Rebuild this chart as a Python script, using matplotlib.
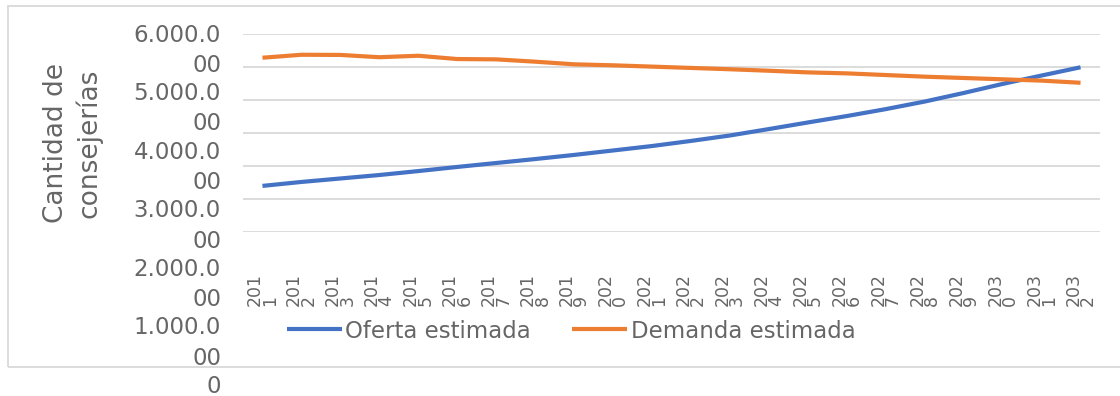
import matplotlib
matplotlib.use("Agg")
import matplotlib.pyplot as plt
from matplotlib.patches import Rectangle

plt.rcParams["font.family"] = ["DejaVu Sans"]

# datos
years = list(range(2011, 2033))
oferta = [1390, 1510, 1615, 1720, 1840, 1965, 2085, 2205, 2330, 2465, 2600,
          2755, 2920, 3115, 3315, 3510, 3720, 3950, 4210, 4485, 4740, 4990]
demanda = [5280, 5370, 5365, 5295, 5340, 5240, 5230, 5160, 5080, 5050, 5010,
           4970, 4930, 4885, 4835, 4805, 4755, 4705, 4665, 4625, 4585, 4520]
y_grid = [0, 1000, 2000, 3000, 4000, 5000, 6000]
y_tick_labels = ["6.000.0\n00", "5.000.0\n00", "4.000.0\n00", "3.000.0\n00",
                 "2.000.0\n00", "1.000.0\n00", "0"]
x_tick_labels = [str(y)[:3] + "\n" + str(y)[3:] for y in years]

BLUE = "#4472C4"
ORANGE = "#ED7D31"
GRID = "#d9d9d9"
TXT = "#666666"

W, H = 1120, 396
fig = plt.figure(figsize=(W / 100, H / 100), dpi=100)
ax = fig.add_axes([243 / W, 1 - 231.7 / H, (1100 - 243) / W, (231.7 - 34) / H])

x = list(range(len(years)))
ax.plot(x, oferta, color=BLUE, lw=3, solid_capstyle="butt", label="Oferta estimada")
ax.plot(x, demanda, color=ORANGE, lw=3, solid_capstyle="butt", label="Demanda estimada")

ax.set_xlim(-0.5, len(years) - 0.5)
ax.set_ylim(0, 6000)
ax.set_yticks(y_grid)
ax.set_yticklabels([])
ax.grid(axis="y", color=GRID, lw=1.3)
ax.set_axisbelow(True)
for s in ax.spines.values():
    s.set_visible(False)
ax.tick_params(length=0)

ax.set_xticks(x)
ax.set_xticklabels(x_tick_labels, rotation=90, multialignment="left",
                   fontsize=12.5, color=TXT, linespacing=0.75)
ax.tick_params(axis="x", pad=30)

# etiquetas del eje Y (desplazadas como en el original)
for i, lab in enumerate(y_tick_labels):
    top = 23.5 + 58.6 * i
    fig.text(221 / W, 1 - top / H, lab, ha="right", va="top", fontsize=16.5,
             color=TXT, multialignment="right", linespacing=1.4)

fig.text(73 / W, 1 - 143 / H, "Cantidad de\nconsejerías", rotation=90,
         ha="center", va="center", fontsize=19, color=TXT, linespacing=1.3)

fig.legend(loc="center", bbox_to_anchor=(571 / W, 1 - 331 / H), ncol=2,
           frameon=False, fontsize=16.5, labelcolor=TXT, handlelength=2.4,
           handletextpad=0.15, columnspacing=1.8)

fig.patches.append(Rectangle((8 / W, 1 - 367 / H), 1.2, (367 - 6) / H,
                             transform=fig.transFigure, fill=False,
                             edgecolor=GRID, lw=1.3))

fig.savefig("out.png", dpi=100, facecolor="white")
